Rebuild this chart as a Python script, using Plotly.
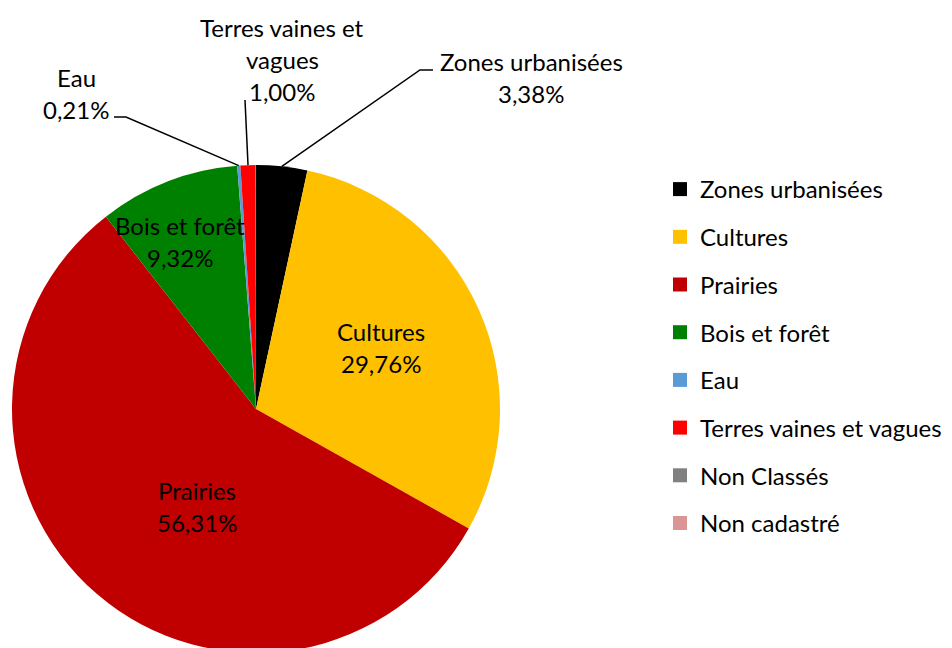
import numpy as np
import plotly.graph_objects as go

# ---- data ----
categories = ["Zones urbanisées", "Cultures", "Prairies", "Bois et forêt",
              "Eau", "Terres vaines et vagues", "Non Classés", "Non cadastré"]
values = [3.38, 29.76, 56.31, 9.32, 0.21, 1.00, 0.01, 0.01]
colors = ["#000000", "#FFC000", "#C00000", "#008000",
          "#5B9BD5", "#FF0000", "#808080", "#D99694"]
# label text lines (name part), for categories that are labelled
label_names = {
    "Zones urbanisées": ["Zones urbanisées"],
    "Cultures": ["Cultures"],
    "Prairies": ["Prairies"],
    "Bois et forêt": ["Bois et forêt"],
    "Eau": ["Eau"],
    "Terres vaines et vagues": ["Terres vaines et", "vagues"],
}

# ---- layout constants (screen pixels) ----
W, H = 952, 648
OFF = 8            # page body margin
cx, cy, R = 256, 409, 244
FONT = "Lato"
FS = 24
LINE = 32

def paper(x, y):
    return (x - OFF) / W, 1 - (y - OFF) / H

# label anchor (centre x, centre y of first line) in screen px
label_pos = {
    "Zones urbanisées": (531, 61),
    "Cultures": (381, 331),
    "Prairies": (197, 490),
    "Bois et forêt": (180, 225),
    "Eau": (76, 77),
    "Terres vaines et vagues": (282, 27),
}
# leader line elbows (screen px), from label side
leader = {
    "Zones urbanisées": [(433, 70), (420, 70)],
    "Terres vaines et vagues": [(245, 100)],
    "Eau": [(114, 117), (126, 117)],
}

dx0, dy1 = paper(cx - R, cy - R)
dx1, dy0 = paper(cx + R, cy + R)

fig = go.Figure()
fig.add_trace(go.Pie(
    labels=categories, values=values, sort=False, direction="clockwise",
    rotation=0, textinfo="none", showlegend=False,
    marker=dict(colors=colors, line=dict(width=0)),
    domain=dict(x=[dx0, dx1], y=[max(dy0, 0), dy1]),
    hoverinfo="label+percent",
))

# legend entries
for i, (c, col) in enumerate(zip(categories, colors)):
    fig.add_trace(go.Scatter(
        x=[None], y=[None], mode="markers", name=c, legendgroup=f"g{i}",
        marker=dict(symbol="square", size=14, color=col), showlegend=True,
    ))

total = sum(values)
cum = np.cumsum([0] + values)
annotations = []
shapes = []
for i, c in enumerate(categories):
    if c not in label_names:
        continue
    pct = f"{values[i]:.2f}".replace(".", ",") + "%"
    lines = label_names[c] + [pct]
    x0, y0 = label_pos[c]
    for k, t in enumerate(lines):
        xp, yp = paper(x0, y0 + k * LINE)
        annotations.append(dict(
            x=xp, y=yp, xref="paper", yref="paper", text=t, showarrow=False,
            xanchor="center", yanchor="middle",
            font=dict(family=FONT, size=FS, color="#000000"),
        ))
    if c in leader:
        th = 2 * np.pi * (cum[i] + values[i] / 2) / total
        ex, ey = cx + R * np.sin(th), cy - R * np.cos(th)
        pts = leader[c] + [(ex, ey)]
        path = "M " + " L ".join(
            f"{paper(px, py)[0]:.5f},{paper(px, py)[1]:.5f}" for px, py in pts)
        shapes.append(dict(type="path", path=path, xref="paper", yref="paper",
                           line=dict(color="#000000", width=1.5)))

lx, ly = paper(660, 167)
fig.update_layout(
    width=W, height=H, margin=dict(l=0, r=0, t=0, b=0),
    paper_bgcolor="white", plot_bgcolor="white",
    xaxis=dict(visible=False), yaxis=dict(visible=False),
    showlegend=True,
    legend=dict(x=lx, y=ly, xanchor="left", yanchor="top",
                font=dict(family=FONT, size=FS, color="#000000"),
                tracegroupgap=13.5, traceorder="grouped", bgcolor="rgba(0,0,0,0)"),
    annotations=annotations, shapes=shapes,
)

fig.write_html("out.html")
